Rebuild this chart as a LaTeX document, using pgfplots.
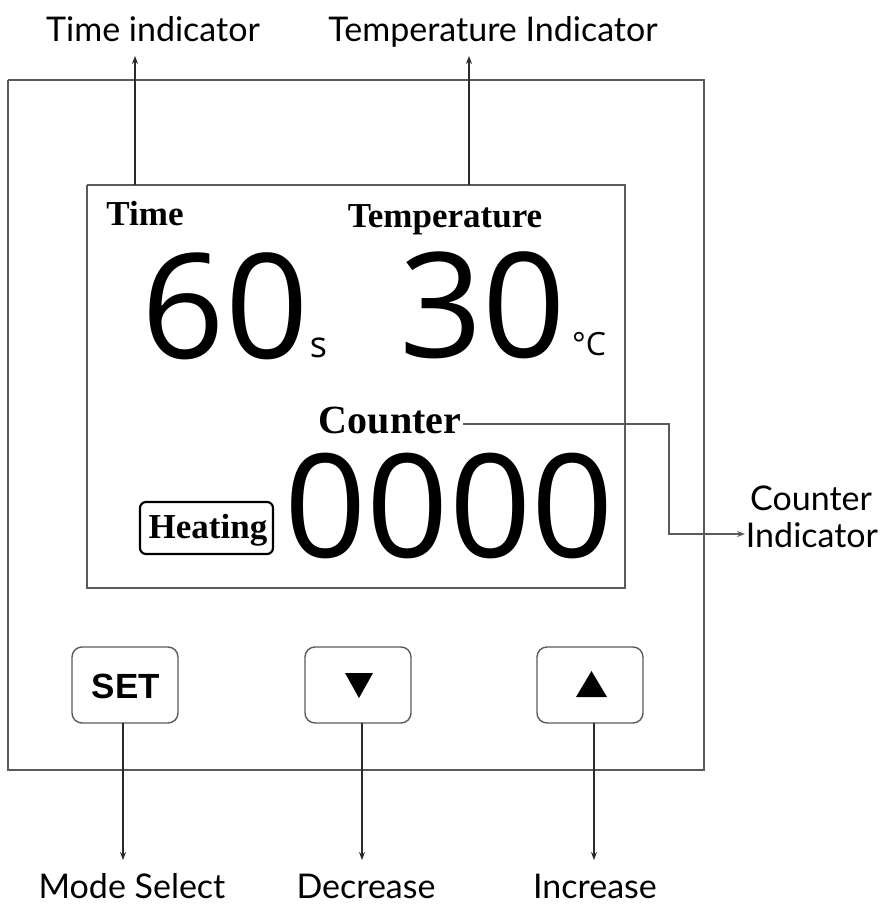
\documentclass[border=0pt]{standalone}
\usepackage{pgfplots}
\pgfplotsset{compat=1.18}
\usepackage{fontspec}
\usetikzlibrary{arrows.meta}
\setmainfont{Liberation Serif}
\newfontfamily\labelfont{Lato}
\newfontfamily\digitfont{Open Sans}
\newfontfamily\setfont{Liberation Sans}
\definecolor{boxgray}{HTML}{5A5A5A}
\definecolor{arrowgray}{HTML}{2A2A2A}
\begin{document}
\begin{tikzpicture}
\begin{axis}[
  width=441pt, height=452pt, scale only axis,
  xmin=0, xmax=882, ymin=0, ymax=904, y dir=reverse,
  hide axis, clip=false,
]
% frame for bounding box
\addplot[draw=none] coordinates {(0,0) (882,904)};
% outer box
\addplot[boxgray, line width=0.9pt] coordinates {(8,80) (704,80) (704,770) (8,770) (8,80)};
% inner display box
\addplot[boxgray, line width=0.9pt] coordinates {(87,185) (625,185) (625,588) (87,588) (87,185)};
% top arrows
\addplot[arrowgray, line width=0.6pt, -{Stealth[length=4pt,width=3pt]}] coordinates {(135,185) (135,56)};
\addplot[arrowgray, line width=0.6pt, -{Stealth[length=4pt,width=3pt]}] coordinates {(469,185) (469,56)};
% counter indicator line
\addplot[boxgray, line width=0.7pt, -{Stealth[length=4pt,width=3pt]}] coordinates {(463,424) (669,424) (669,534) (745,534)};
% heating box
\addplot[black, line width=1.1pt, rounded corners=3pt] coordinates {(206,502) (273,502) (273,554) (140,554) (140,502) (206,502)};
% buttons
\addplot[boxgray, line width=0.7pt, rounded corners=5pt] coordinates {(125,647) (178,647) (178,723) (72,723) (72,647) (125,647)};
\addplot[boxgray, line width=0.7pt, rounded corners=5pt] coordinates {(358,647) (411,647) (411,723) (305,723) (305,647) (358,647)};
\addplot[boxgray, line width=0.7pt, rounded corners=5pt] coordinates {(590,647) (643,647) (643,723) (537,723) (537,647) (590,647)};
% triangles
\addplot[black, fill=black, draw=none] coordinates {(345,673) (373,673) (359,698) (345,673)};
\addplot[black, fill=black, draw=none] coordinates {(576,697) (607,697) (591.5,671) (576,697)};
% bottom arrows
\addplot[arrowgray, line width=0.6pt, -{Stealth[length=4pt,width=3pt]}] coordinates {(123,723) (123,860)};
\addplot[arrowgray, line width=0.6pt, -{Stealth[length=4pt,width=3pt]}] coordinates {(362,723) (362,860)};
\addplot[arrowgray, line width=0.6pt, -{Stealth[length=4pt,width=3pt]}] coordinates {(594,723) (594,860)};
% text labels
\node[anchor=base, inner sep=0pt, font=\labelfont\fontsize{17}{20}\selectfont] at (axis cs:153,42) {Time indicator};
\node[anchor=base, inner sep=0pt, font=\labelfont\fontsize{17}{20}\selectfont] at (axis cs:493,42) {Temperature Indicator};
\node[anchor=base, inner sep=0pt, font=\labelfont\fontsize{17}{20}\selectfont] at (axis cs:811,510) {Counter};
\node[anchor=base, inner sep=0pt, font=\labelfont\fontsize{17}{20}\selectfont] at (axis cs:812,547) {Indicator};
\node[anchor=base, inner sep=0pt, font=\labelfont\fontsize{17}{20}\selectfont] at (axis cs:132,898) {Mode Select};
\node[anchor=base, inner sep=0pt, font=\labelfont\fontsize{17}{20}\selectfont] at (axis cs:366,898) {Decrease};
\node[anchor=base, inner sep=0pt, font=\labelfont\fontsize{17}{20}\selectfont] at (axis cs:595,898) {Increase};
% display serif text
\node[anchor=base, inner sep=0pt, font=\bfseries\fontsize{17.5}{20}\selectfont] at (axis cs:145,225) {Time};
\node[anchor=base, inner sep=0pt, font=\bfseries\fontsize{17.5}{20}\selectfont] at (axis cs:445,227) {Temperature};
\node[anchor=base, inner sep=0pt, font=\bfseries\fontsize{20}{24}\selectfont] at (axis cs:390,433) {Counter};
\node[anchor=base, inner sep=0pt, font=\bfseries\fontsize{17.5}{20}\selectfont] at (axis cs:208,538) {Heating};
% big digits
\node[anchor=base, inner sep=0pt, font=\digitfont\fontsize{73}{80}\selectfont] at (axis cs:225,358) {60};
\node[anchor=base, inner sep=0pt, font=\digitfont\fontsize{18}{20}\selectfont] at (axis cs:318.5,357) {s};
\node[anchor=base, inner sep=0pt, font=\digitfont\fontsize{73}{80}\selectfont] at (axis cs:482.5,357) {30};
\node[anchor=base, inner sep=0pt, font=\digitfont\fontsize{16}{20}\selectfont] at (axis cs:589,355) {°C};
\node[anchor=base, inner sep=0pt, font=\digitfont\fontsize{72}{80}\selectfont] at (axis cs:449,557) {0000};
% SET
\node[anchor=base, inner sep=0pt, font=\setfont\bfseries\fontsize{17.5}{20}\selectfont] at (axis cs:126,698) {SET};
\end{axis}
\end{tikzpicture}
\end{document}
